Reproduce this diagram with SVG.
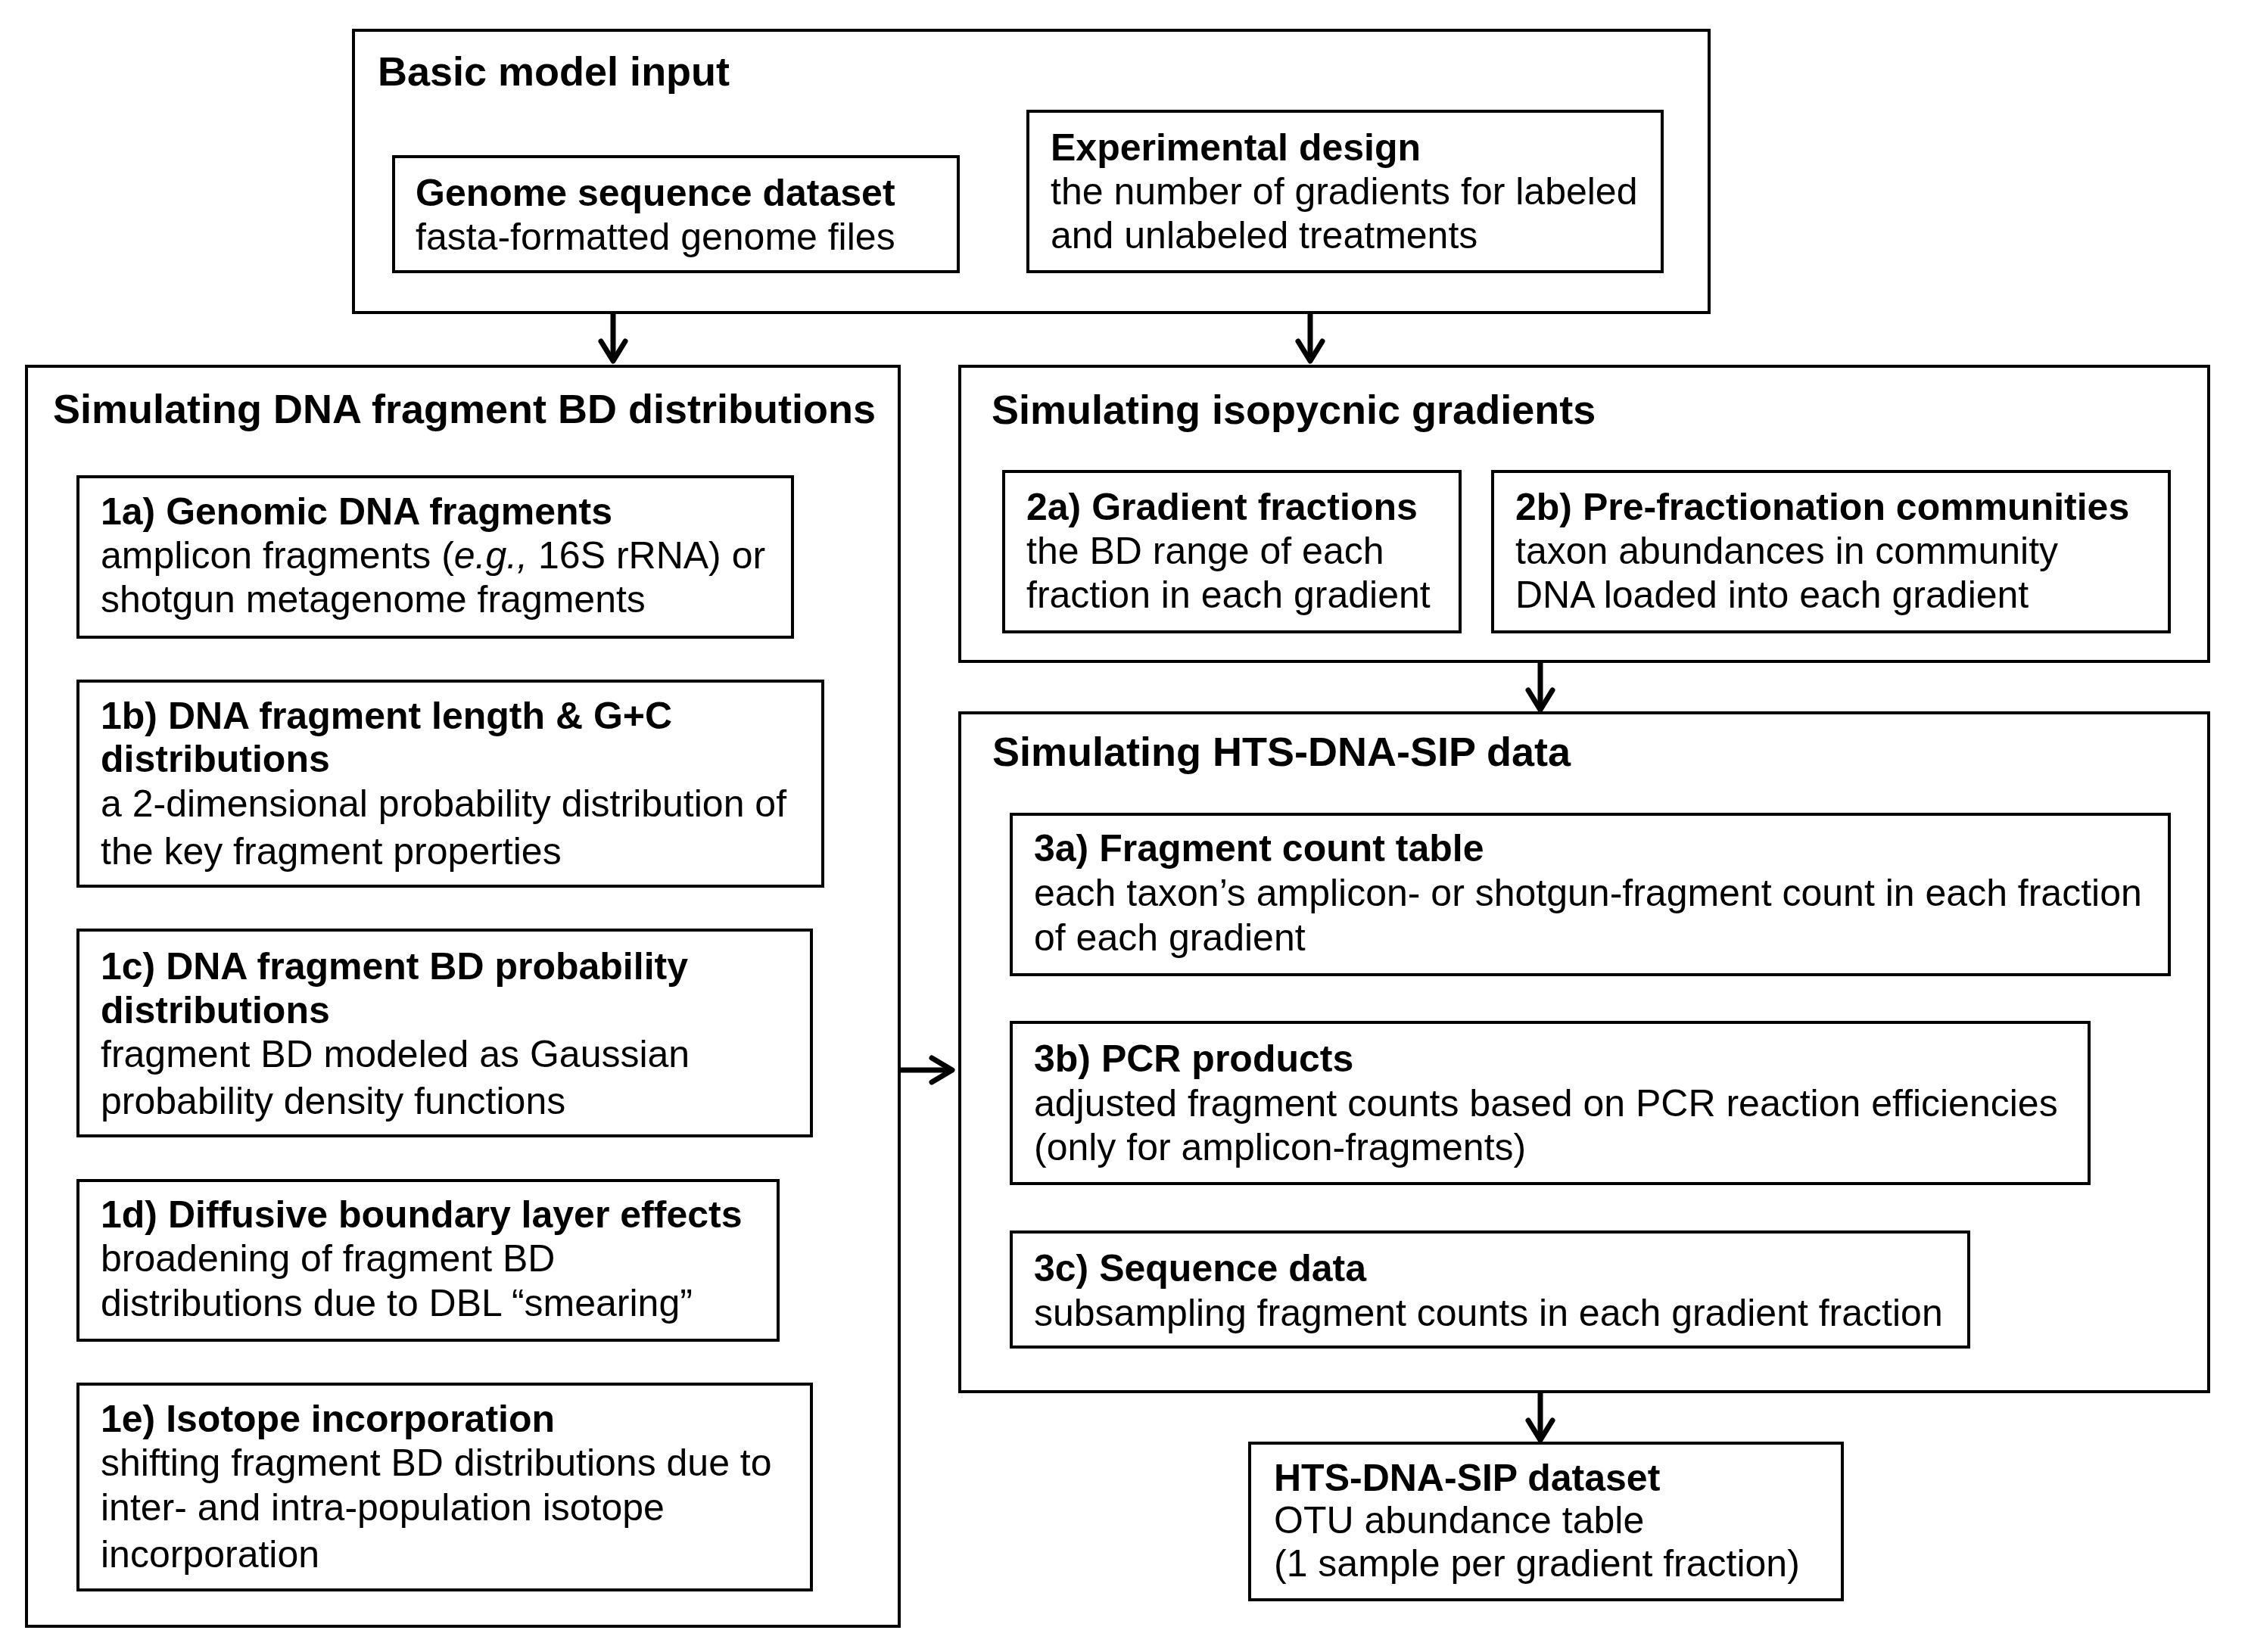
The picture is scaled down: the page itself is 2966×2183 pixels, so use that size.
<svg xmlns="http://www.w3.org/2000/svg" width="2966" height="2183" viewBox="0 0 2966 2183">
<style>
.box{fill:none;stroke:#000;stroke-width:4}
text{font-family:"Liberation Sans",Arial,sans-serif;fill:#000}
.h{font-size:54px;font-weight:bold}
.t{font-size:50px;font-weight:bold}
.b{font-size:50px}
.c{fill:none;stroke:#000;stroke-width:7;stroke-linecap:round;stroke-linejoin:round}
.s{fill:none;stroke:#000;stroke-width:7;stroke-linecap:butt}
</style>
<rect width="2966" height="2183" fill="#fff"/>

<g id="basic-input">
<rect class="box" x="467" y="40" width="1791" height="373"/>
<text class="h" x="499" y="113">Basic model input</text>
</g>
<g id="genome">
<rect class="box" x="520" y="207" width="746" height="152"/>
<text class="t" x="549" y="272">Genome sequence dataset</text>
<text class="b" x="549" y="330">fasta-formatted genome files</text>
</g>
<g id="experimental">
<rect class="box" x="1358" y="147" width="838" height="212"/>
<text class="t" x="1388" y="212">Experimental design</text>
<text class="b" x="1388" y="270">the number of gradients for labeled</text>
<text class="b" x="1388" y="328">and unlabeled treatments</text>
</g>

<g id="sim-bd">
<rect class="box" x="35" y="484" width="1153" height="1665"/>
<text class="h" x="70" y="559">Simulating DNA fragment BD distributions</text>
</g>
<g id="n1a">
<rect class="box" x="103" y="630" width="944" height="212"/>
<text class="t" x="133" y="693">1a) Genomic DNA fragments</text>
<text class="b" x="133" y="751">amplicon fragments (<tspan font-style="italic">e.g.,</tspan> 16S rRNA) or</text>
<text class="b" x="133" y="809">shotgun metagenome fragments</text>
</g>
<g id="n1b">
<rect class="box" x="103" y="900" width="984" height="271"/>
<text class="t" x="133" y="963">1b) DNA fragment length &amp; G+C</text>
<text class="t" x="133" y="1020">distributions</text>
<text class="b" x="133" y="1079">a 2-dimensional probability distribution of</text>
<text class="b" x="133" y="1142">the key fragment properties</text>
</g>
<g id="n1c">
<rect class="box" x="103" y="1229" width="969" height="272"/>
<text class="t" x="133" y="1294">1c) DNA fragment BD probability</text>
<text class="t" x="133" y="1352">distributions</text>
<text class="b" x="133" y="1410">fragment BD modeled as Gaussian</text>
<text class="b" x="133" y="1472">probability density functions</text>
</g>
<g id="n1d">
<rect class="box" x="103" y="1560" width="925" height="211"/>
<text class="t" x="133" y="1622">1d) Diffusive boundary layer effects</text>
<text class="b" x="133" y="1680">broadening of fragment BD</text>
<text class="b" x="133" y="1739">distributions due to DBL “smearing”</text>
</g>
<g id="n1e">
<rect class="box" x="103" y="1829" width="969" height="272"/>
<text class="t" x="133" y="1892">1e) Isotope incorporation</text>
<text class="b" x="133" y="1950">shifting fragment BD distributions due to</text>
<text class="b" x="133" y="2009">inter- and intra-population isotope</text>
<text class="b" x="133" y="2071">incorporation</text>
</g>

<g id="sim-iso">
<rect class="box" x="1268" y="484" width="1650" height="390"/>
<text class="h" x="1310" y="560">Simulating isopycnic gradients</text>
</g>
<g id="n2a">
<rect class="box" x="1326" y="623" width="603" height="212"/>
<text class="t" x="1356" y="687">2a) Gradient fractions</text>
<text class="b" x="1356" y="745">the BD range of each</text>
<text class="b" x="1356" y="803">fraction in each gradient</text>
</g>
<g id="n2b">
<rect class="box" x="1972" y="623" width="894" height="212"/>
<text class="t" x="2002" y="687">2b) Pre-fractionation communities</text>
<text class="b" x="2002" y="745">taxon abundances in community</text>
<text class="b" x="2002" y="803">DNA loaded into each gradient</text>
</g>

<g id="sim-hts">
<rect class="box" x="1268" y="942" width="1650" height="897"/>
<text class="h" x="1311" y="1012">Simulating HTS-DNA-SIP data</text>
</g>
<g id="n3a">
<rect class="box" x="1336" y="1076" width="1530" height="212"/>
<text class="t" x="1366" y="1138">3a) Fragment count table</text>
<text class="b" x="1366" y="1197">each taxon’s amplicon- or shotgun-fragment count in each fraction</text>
<text class="b" x="1366" y="1256">of each gradient</text>
</g>
<g id="n3b">
<rect class="box" x="1336" y="1351" width="1424" height="213"/>
<text class="t" x="1366" y="1416">3b) PCR products</text>
<text class="b" x="1366" y="1475">adjusted fragment counts based on PCR reaction efficiencies</text>
<text class="b" x="1366" y="1533">(only for amplicon-fragments)</text>
</g>
<g id="n3c">
<rect class="box" x="1336" y="1628" width="1265" height="152"/>
<text class="t" x="1366" y="1693">3c) Sequence data</text>
<text class="b" x="1366" y="1752">subsampling fragment counts in each gradient fraction</text>
</g>

<g id="dataset">
<rect class="box" x="1651" y="1907" width="783" height="207"/>
<text class="t" x="1683" y="1970">HTS-DNA-SIP dataset</text>
<text class="b" x="1683" y="2026">OTU abundance table</text>
<text class="b" x="1683" y="2083">(1 sample per gradient fraction)</text>
</g>

<g id="connectors">
<path class="s" d="M810 413 V474"/><path class="c" d="M794 451 L810 477 L826 451"/>
<path class="s" d="M1731 413 V474"/><path class="c" d="M1715 451 L1731 477 L1747 451"/>
<path class="s" d="M2035 874 V935"/><path class="c" d="M2019 912 L2035 938 L2051 912"/>
<path class="s" d="M2035 1839 V1900"/><path class="c" d="M2019 1877 L2035 1903 L2051 1877"/>
<path class="s" d="M1190 1414 H1255"/><path class="c" d="M1231 1398 L1258 1414 L1231 1430"/>
</g>
</svg>
